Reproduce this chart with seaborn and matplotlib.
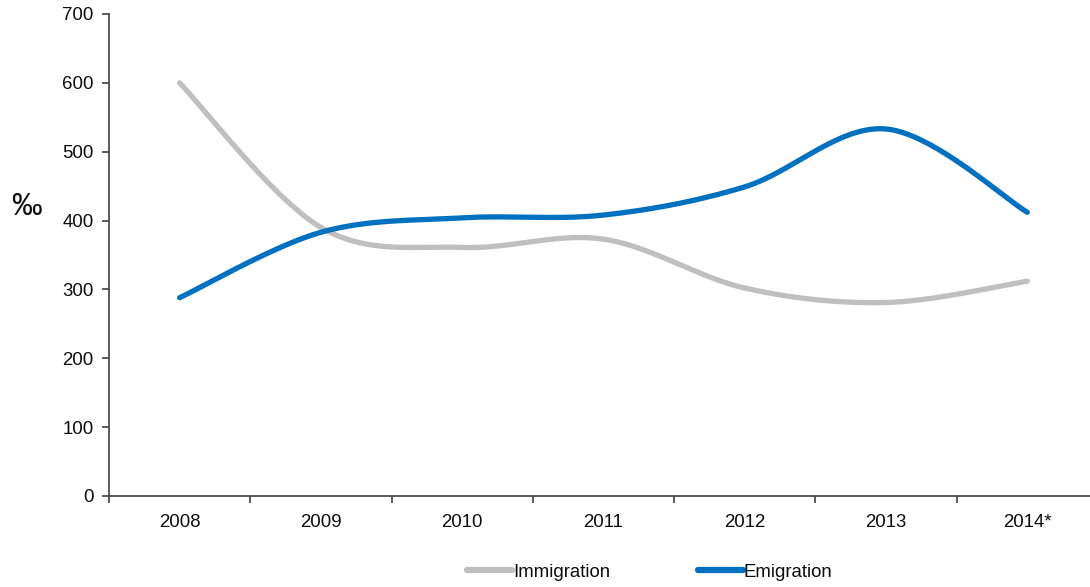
import numpy as np
import pandas as pd
import matplotlib
matplotlib.use("Agg")
import matplotlib.pyplot as plt
from matplotlib.ticker import FixedLocator, MultipleLocator
import seaborn as sns

# Migration figures per year, per mille
years = ["2008", "2009", "2010", "2011", "2012", "2013", "2014*"]
immigration = [600, 390, 361, 373, 302, 281, 312]
emigration = [288, 383, 404, 408, 449, 533, 412]
series_names = ["Immigration", "Emigration"]
series_colors = ["#BFBFBF", "#0070C0"]


def smooth_curve(values, steps=40):
    """Smoothed line through every point using cubic Bezier segments
    with Catmull-Rom style control points."""
    p = np.column_stack([np.arange(len(values)), values]).astype(float)
    ext = np.vstack([p[0], p, p[-1]])
    t = np.linspace(0, 1, steps)[1:, None]
    out = [p[0]]
    for i in range(len(p) - 1):
        p0, p3 = ext[i + 1], ext[i + 2]
        c1 = p0 + (ext[i + 2] - ext[i]) / 6
        c2 = p3 - (ext[i + 3] - ext[i + 1]) / 6
        seg = ((1 - t) ** 3) * p0 + 3 * ((1 - t) ** 2) * t * c1 \
            + 3 * (1 - t) * (t ** 2) * c2 + (t ** 3) * p3
        out.extend(seg)
    return np.array(out)


frames = []
for name, vals in zip(series_names, [immigration, emigration]):
    c = smooth_curve(vals)
    frames.append(pd.DataFrame({"x": c[:, 0], "y": c[:, 1], "series": name}))
df = pd.concat(frames, ignore_index=True)

sns.set_theme(style="white")
plt.rcParams["font.family"] = ["Liberation Sans", "DejaVu Sans"]

W, H = 1090, 587
fig = plt.figure(figsize=(W / 100, H / 100), dpi=100)
left, right, top, bottom = 109, 1098, 14, 496
ax = fig.add_axes([left / W, 1 - bottom / H, (right - left) / W, (bottom - top) / H])

sns.lineplot(data=df, x="x", y="y", hue="series", hue_order=series_names,
             palette=series_colors, linewidth=3.8, sort=False, estimator=None,
             ax=ax, solid_capstyle="round")

ax.set_xlim(-0.5, len(years) - 0.5)
ax.set_ylim(0, 700)
ax.yaxis.set_major_locator(MultipleLocator(100))

text_color = "#0d0d0d"
axis_color = "#404040"
fs = 13.4

# category labels centred, tick marks on category boundaries
ax.set_xticks(range(len(years)))
ax.set_xticklabels(years)
ax.xaxis.set_minor_locator(FixedLocator(np.arange(-0.5, len(years), 1.0)))
ax.tick_params(axis="x", which="major", length=0, pad=13, labelsize=fs, labelcolor=text_color)
ax.tick_params(axis="x", which="minor", length=5, width=1.2, color=axis_color, direction="out",
               bottom=True)
ax.tick_params(axis="y", which="major", length=5, width=1.2, color=axis_color, direction="out",
               left=True, pad=6, labelsize=fs, labelcolor=text_color)

for s in ["top", "right"]:
    ax.spines[s].set_visible(False)
for s in ["left", "bottom"]:
    ax.spines[s].set_color(axis_color)
    ax.spines[s].set_linewidth(1.2)

ax.set_xlabel("")
ax.set_ylabel("‰", rotation=0, fontsize=22, color=text_color, va="center", ha="center")
ax.yaxis.set_label_coords(-0.083, 0.60)

sns.move_legend(ax, "center", bbox_to_anchor=(0.547, -0.158), ncol=2, frameon=False,
                title=None, fontsize=fs, handlelength=2.4, handletextpad=0.05,
                columnspacing=4.75)
for txt in ax.get_legend().get_texts():
    txt.set_color(text_color)
for h in ax.get_legend().legend_handles:
    h.set_linewidth(4.5)
    h.set_solid_capstyle("round")

fig.savefig("out.png", dpi=100)
